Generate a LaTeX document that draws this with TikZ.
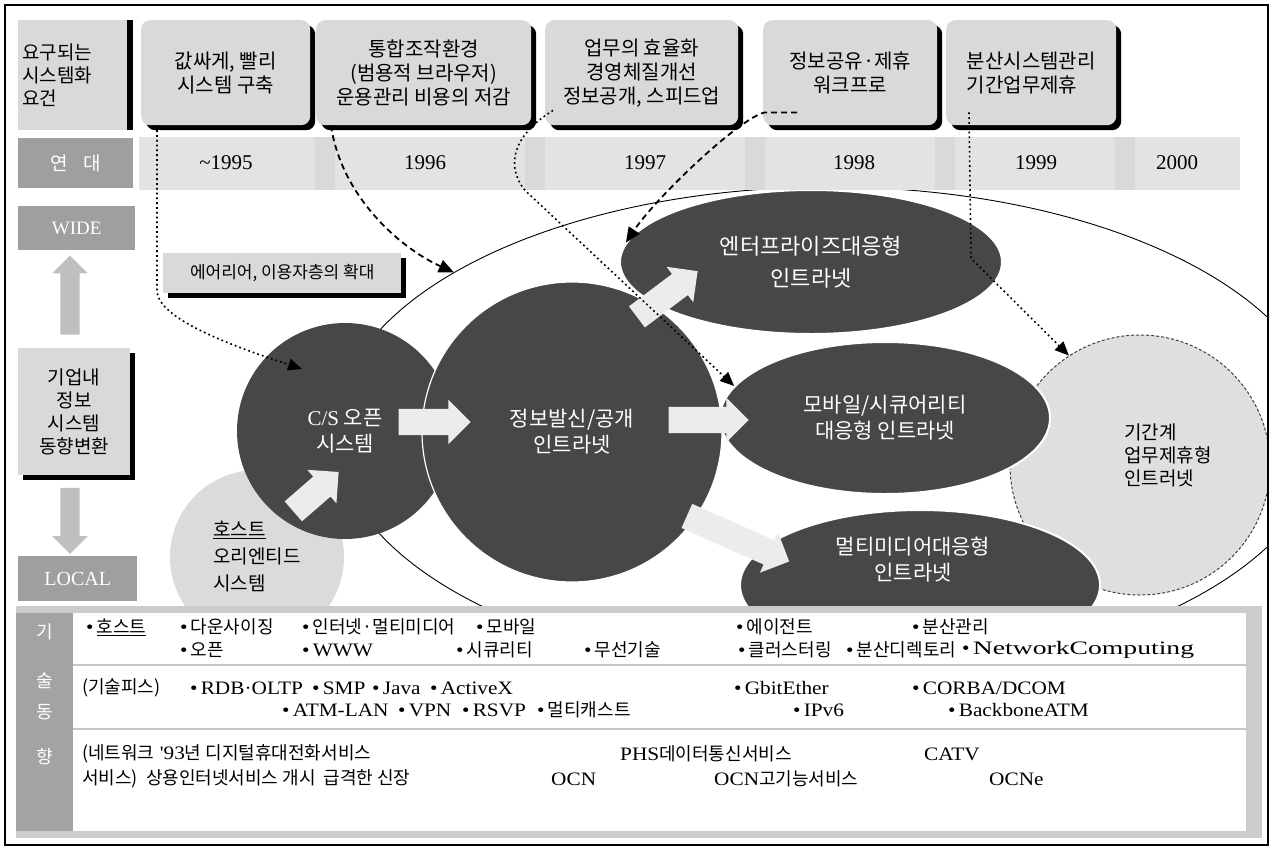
\documentclass[tikz,border=0pt]{standalone}
\usepackage{fontspec}
\usepackage{graphicx}
\setmainfont{Liberation Serif}
\newfontfamily\kr{Noto Sans CJK KR}
\newfontfamily\wl[FakeStretch=1.12]{Liberation Serif}
\usetikzlibrary{arrows.meta,shapes.arrows,shapes.geometric,shadows,calc}
\newcommand{\hk}[1]{{\kr\fontsize{18}{20}\selectfont #1}}
\newcommand{\bu}{{\char"2022\,}}
\begin{document}
\begin{tikzpicture}[x=1pt,y=-1pt,
  hbox/.style={fill=gray!30, rounded corners=9pt, minimum height=105pt, anchor=north west, align=center, inner sep=3pt, font=\kr\fontsize{20}{24}\selectfont, drop shadow={shadow xshift=5pt, shadow yshift=-5pt, fill=black, opacity=1}},
  darkbox/.style={fill=gray!75, anchor=north west, text=white, inner sep=0pt},
  graybox/.style={fill=gray!30, anchor=north west, align=center, inner sep=0pt, font=\kr\fontsize{19}{23}\selectfont, drop shadow={shadow xshift=5pt, shadow yshift=-5pt, fill=black, opacity=1}},
  yr/.style={font=\fontsize{21}{24}\selectfont},
  darkc/.style={fill=black!72, text=white, align=center, inner sep=0pt, font=\kr\fontsize{21}{26}\selectfont},
  lightc/.style={fill=gray!28, align=left, inner sep=0pt, font=\kr\fontsize{19}{27}\selectfont},
  barrow/.style={single arrow, fill=gray!15, inner sep=13pt, single arrow head extend=9pt, single arrow head indent=0pt},
  varrow/.style={single arrow, fill=gray!50, inner sep=9.5pt, single arrow head extend=8pt},
  dotc/.style={line width=1.6pt, dash pattern=on 1.8pt off 3pt, -{Triangle[length=14pt,width=12pt]}},
  dashc/.style={line width=1.8pt, dash pattern=on 6pt off 4pt, -{Triangle[length=15pt,width=13pt]}},
  tt/.style={anchor=west, inner sep=0pt, font=\wl\fontsize{19}{22}\selectfont},
  tg/.style={text=white, inner sep=0pt, font=\kr\fontsize{18}{20}\selectfont},
]
\useasboundingbox (0,0) rectangle (1273,849);
\fill[white] (0,0) rectangle (1273,849);

% ---------- middle region (clipped to frame) ----------
\begin{scope}
\clip (5,5) rectangle (1268,845);
\node[draw, ellipse, minimum width=990pt, minimum height=490pt, line width=0.9pt, inner sep=0pt] (region) at (830,432) {};
\node[circle, fill=gray!25, draw=black!75, line width=1pt, dash pattern=on 3pt off 2pt, minimum size=260pt, inner sep=0pt] (kk) at (1140,465) {};
\end{scope}
\node[align=left, inner sep=0pt, font=\kr\fontsize{19}{23}\selectfont] (kkt) at (1168,455) {기간계\\업무제휴형\\인트러넷};

\node[lightc, circle, minimum size=174pt] (host) at (257,557) {\underline{호스트}\\오리엔티드\\시스템};
\node[darkc, circle, minimum size=216pt] (cs) at (345,431) {{\rmfamily C/S} 오픈\\시스템};
\node[darkc, circle, minimum size=300pt, draw=white, line width=1.2pt] (info) at (572,432) {정보발신/공개\\인트라넷};
\node[darkc, ellipse, minimum width=382pt, minimum height=144pt, draw=white, line width=2pt, font=\kr\fontsize{22}{32}\selectfont] (ent) at (811,262) {엔터프라이즈대응형\\인트라넷};
\node[darkc, ellipse, minimum width=330pt, minimum height=152pt, draw=white, line width=2pt] (mob) at (885,418) {모바일/시큐어리티\\대응형 인트라넷};
\node[darkc, ellipse, minimum width=360pt, minimum height=150pt, draw=white, line width=2pt] (mm) at (920,585) {};
\node[text=white, align=center, inner sep=0pt, font=\kr\fontsize{21}{26}\selectfont] (mmt) at (913,560) {멀티미디어대응형\\인트라넷};

% block arrows
\node[barrow, minimum height=60pt, rotate=41] (a1) at (311,496) {};
\node[barrow, minimum height=72pt] (a2) at (428,422) {};
\node[barrow, minimum height=76pt, rotate=37] (a3) at (662,298) {};
\node[barrow, minimum height=80pt] (a4) at (702,420) {};
\node[barrow, minimum height=112pt, rotate=-24] (a5) at (732,536) {};

% ---------- header ----------
\node[fill=gray!30, anchor=north west, minimum width=109pt, minimum height=110pt, text width=101pt, align=left, inner sep=4pt, font=\kr\fontsize{19}{23}\selectfont, drop shadow={shadow xshift=6pt, shadow yshift=0pt, fill=black, opacity=1}] (b0) at (18,20) {요구되는\\시스템화\\요건};
\node[hbox, minimum width=169pt] (b1) at (141,20) {값싸게, 빨리\\시스템 구축};
\node[hbox, minimum width=215pt] (b2) at (316,20) {통합조작환경\\(범용적 브라우저)\\운용관리 비용의 저감};
\node[hbox, minimum width=193pt] (b3) at (545,20) {업무의 효율화\\경영체질개선\\정보공개, 스피드업};
\node[hbox, minimum width=174pt] (b4) at (763,20) {정보공유·제휴\\워크프로};
\node[hbox, minimum width=170pt, align=left] (b5) at (946,20) {분산시스템관리\\기간업무제휴};

% ---------- year row ----------
\node[darkbox, minimum width=115pt, minimum height=50pt, font=\kr\fontsize{19}{22}\selectfont] (era) at (18,138) {연\hspace{16pt}대};
\fill[gray!22] (139,137) rectangle (1240,190);
\fill[gray!30] (315,137) rectangle (335,190);
\fill[gray!30] (525,137) rectangle (545,190);
\fill[gray!30] (745,137) rectangle (765,190);
\fill[gray!30] (935,137) rectangle (955,190);
\fill[gray!30] (1115,137) rectangle (1135,190);
\node[yr] (y95) at (226,163) {\textasciitilde1995};
\node[yr] (y96) at (425,163) {1996};
\node[yr] (y97) at (645,163) {1997};
\node[yr] (y98) at (854,163) {1998};
\node[yr] (y99) at (1036,163) {1999};
\node[yr] (y00) at (1177,163) {2000};

% ---------- left column ----------
\node[darkbox, minimum width=117pt, minimum height=44pt, font=\fontsize{19}{22}\selectfont] (wide) at (18,206) {WIDE};
\node[varrow, minimum height=79pt, rotate=90] (up) at (70,300) {};
\node[graybox, minimum width=112pt, minimum height=127pt] (trend) at (18,348) {기업내\\정보\\시스템\\동향변환};
\node[varrow, minimum height=66pt, rotate=-90] (down) at (70,516) {};
\node[darkbox, minimum width=119pt, minimum height=45pt, font=\fontsize{20}{22}\selectfont] (local) at (18,556) {LOCAL};
\node[graybox, minimum width=238pt, minimum height=40pt, font=\kr\fontsize{17}{20}\selectfont] (area) at (163,253) {에어리어, 이용자층의 확대};

% ---------- connectors ----------
\coordinate (c1s) at ([xshift=16pt]b1.south west);
\coordinate (c1e) at ($(cs.center)+(-43,-62)$);
\draw[dotc] (c1s) -- ++(0,165) .. controls +(0,30) and +(-60,-20) .. (c1e);
\coordinate (c2s) at ([xshift=15pt]b2.south west);
\draw[dashc] (c2s) .. controls +(10,70) and +(-55,-25) .. (region.157);
\coordinate (c3s) at ([shift={(34,-13)}]b4.south west);
\draw[dashc] (c3s) -- ++(-32,0) .. controls +(-25,5) and +(30,-45) .. (ent.174);
\coordinate (c4s) at ([shift={(8,-15)}]b3.south west);
\draw[dotc] (c4s) .. controls +(-40,25) and +(-20,-25) .. ++(-28,80) -- (mob.168);
\coordinate (c5s) at ([shift={(23,-13)}]b5.south west);
\draw[dotc] (c5s) -- ++(2,146) -- (kk.123);

% ---------- technology table ----------
\fill[gray!40] (16,606) rectangle (1262,838);
\fill[white] (73,613) rectangle (1246,831);
\fill[gray!72] (16,613) rectangle (73,831);
\draw[gray!45, line width=2.5pt] (73,665) -- (1246,665);
\draw[gray!45, line width=2.5pt] (73,729) -- (1246,729);
\node[tg] (tg1) at (45,632) {기};
\node[tg] (tg2) at (45,681) {술};
\node[tg] (tg3) at (45,712) {동};
\node[tg] (tg4) at (45,757) {향};

\node[tt] (r1a1) at (86,627) {\bu\hk{\underline{호스트}}};
\node[tt] (r1a2) at (180,627) {\bu\hk{다운사이징}};
\node[tt] (r1a3) at (302,627) {\bu\hk{인터넷·멀티미디어}};
\node[tt] (r1a4) at (476,627) {\bu\hk{모바일}};
\node[tt] (r1a5) at (736,627) {\bu\hk{에이전트}};
\node[tt] (r1a6) at (912,627) {\bu\hk{분산관리}};
\node[tt] (r1b1) at (180,650) {\bu\hk{오픈}};
\node[tt] (r1b2) at (302,650) {\bu WWW};
\node[tt] (r1b3) at (456,650) {\bu\hk{시큐리티}};
\node[tt] (r1b4) at (584,650) {\bu\hk{무선기술}};
\node[tt] (r1b5) at (738,650) {\bu\hk{클러스터링}};
\node[tt] (r1b6) at (846,650) {\bu\hk{분산디렉토리}};
\node[tt] (r1b7) at (962,650) {\bu\scalebox{1.3}[1]{NetworkComputing}};

\node[tt] (r2a0) at (82,688) {\hk{(기술피스)}};
\node[tt] (r2a1) at (190,688) {\bu RDB·OLTP};
\node[tt] (r2a2) at (312,688) {\bu SMP};
\node[tt] (r2a3) at (372,688) {\bu Java};
\node[tt] (r2a4) at (430,688) {\bu ActiveX};
\node[tt] (r2a5) at (734,688) {\bu GbitEther};
\node[tt] (r2a6) at (912,688) {\bu CORBA/DCOM};
\node[tt] (r2b1) at (282,710) {\bu ATM-LAN};
\node[tt] (r2b2) at (398,710) {\bu VPN};
\node[tt] (r2b3) at (462,710) {\bu RSVP};
\node[tt] (r2b4) at (537,710) {\bu\hk{멀티캐스트}};
\node[tt] (r2b5) at (793,710) {\bu IPv6};
\node[tt] (r2b6) at (948,710) {\bu BackboneATM};

\node[tt] (r3a1) at (82,754) {\hk{(네트워크} '93\hk{년 디지털휴대전화서비스}};
\node[tt] (r3a2) at (620,754) {PHS\hk{데이터통신서비스}};
\node[tt] (r3a3) at (924,754) {CATV};
\node[tt] (r3b1) at (82,779) {\hk{서비스)\ \ 상용인터넷서비스 개시\ \ 급격한 신장}};
\node[tt] (r3b2) at (551,779) {OCN};
\node[tt] (r3b3) at (714,779) {OCN\hk{고기능서비스}};
\node[tt] (r3b4) at (989,779) {OCNe};

% frame
\draw[line width=1.2pt] (5,5) rectangle (1268,845);
\end{tikzpicture}
\end{document}
